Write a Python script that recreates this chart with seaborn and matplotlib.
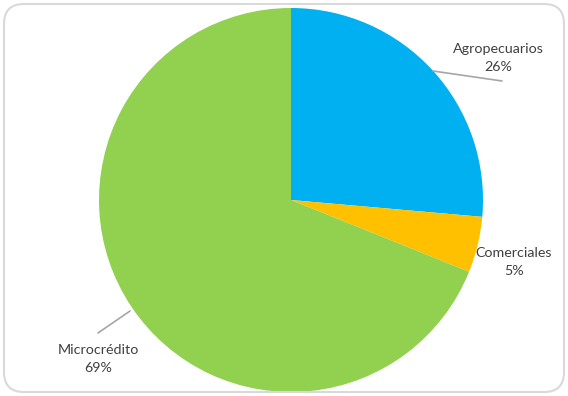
import matplotlib
matplotlib.use("Agg")
import matplotlib.pyplot as plt
import seaborn as sns
from matplotlib.patches import FancyBboxPatch

categories = ["Agropecuarios", "Comerciales", "Microcrédito"]
values = [26.4, 4.7, 68.9]
colors = ["#00B0F0", "#FFC000", "#92D050"]

sns.set_theme(style="white")
plt.rcParams['font.family'] = ['Lato', 'DejaVu Sans']

W, H = 568, 396
fig = plt.figure(figsize=(W / 100, H / 100), dpi=100)
fig.patch.set_facecolor("white")
ax = fig.add_axes([0, 0, 1, 1])

ax.pie(values, colors=colors, startangle=90, counterclock=False,
       center=(291, 196), radius=192,
       wedgeprops=dict(linewidth=0))
ax.set_xlim(0, W)
ax.set_ylim(0, H)
ax.set_aspect("equal")
ax.axis("off")

txt = "#404040"
fs = 10.3
pct = [f"{round(v)}%" for v in values]
ax.text(498, 347, categories[0], ha="center", va="center", color=txt, fontsize=fs)
ax.text(498, 329, pct[0], ha="center", va="center", color=txt, fontsize=fs)
ax.plot([433, 502], [325, 315], color="#A6A6A6", lw=1.2)

ax.text(514, 143, categories[1], ha="center", va="center", color=txt, fontsize=fs)
ax.text(514, 125, pct[1], ha="center", va="center", color=txt, fontsize=fs)

ax.text(98, 46, categories[2], ha="center", va="center", color=txt, fontsize=fs)
ax.text(98, 28, pct[2], ha="center", va="center", color=txt, fontsize=fs)
ax.plot([130, 98], [85, 63], color="#A6A6A6", lw=1.2)

border = FancyBboxPatch((4 / W, 4 / H), (W - 8) / W, (H - 8) / H,
                        boxstyle="round,pad=0,rounding_size=0.035",
                        transform=fig.transFigure, fill=False,
                        edgecolor="#D9D9D9", linewidth=1.5,
                        mutation_aspect=W / H)
fig.patches.append(border)

fig.savefig("out.png", dpi=100)
